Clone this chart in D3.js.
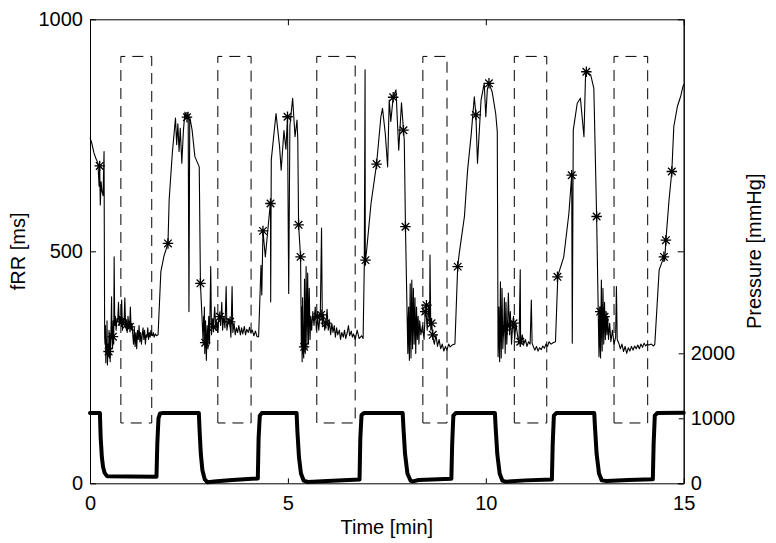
<!DOCTYPE html>
<html>
<head>
<meta charset="utf-8">
<script src="https://cdn.jsdelivr.net/npm/d3@7"></script>
<style>
  body { margin: 0; background: #fff; }
  svg { display: block; }
  text { font-family: "Liberation Sans", Arial, sans-serif; }
</style>
</head>
<body>
<div id="chart"></div>
<script>
// axis ticks
const timeTicks = [0, 5, 10, 15];
const fRRTicks = [0, 500, 1000];
const pressureTicks = [0, 1000, 2000];

// occlusion windows (min) drawn as dashed boxes, in fRR units
const boxWindows = [[0.78, 1.56], [3.23, 4.07], [5.73, 6.70], [8.41, 9.02], [10.72, 11.54], [13.24, 14.09]];
const boxLow = 130;
const boxHigh = 920;

// fRR trace [time min, ms]
const fRR = [
  [0,744],[0.04,735],[0.1,712],[0.15,700],[0.2,690],[0.23,640],[0.245,684],[0.26,600],[0.28,650],[0.3,630],[0.33,620],[0.355,715],[0.37,316],
  [0.38,300],[0.39,340],[0.40,260],[0.41,310],[0.42,290],[0.43,350],[0.44,255],[0.46,300],[0.47,284],[0.48,330],[0.49,270],[0.5,320],[0.51,262],[0.53,330],[0.545,402],[0.556,316],
  [0.57,290],[0.585,350],[0.6,300],[0.61,488],[0.625,340],[0.64,360],[0.66,330],[0.68,355],[0.7,350],[0.72,390],[0.74,340],[0.76,360],
  [0.78,348],[0.8,395],[0.82,330],[0.84,355],[0.86,345],[0.88,400],[0.9,335],[0.92,350],[0.94,325],[0.96,360],[0.98,340],[1.0,337],
  [1.02,380],[1.04,330],[1.06,345],[1.08,320],[1.1,300],[1.12,335],[1.14,295],[1.16,325],[1.18,290],[1.2,330],[1.22,310],[1.24,340],
  [1.26,305],[1.28,325],[1.3,300],[1.32,320],[1.34,335],[1.36,310],[1.38,330],[1.4,300],[1.42,320],[1.44,315],[1.46,335],[1.48,310],
  [1.5,325],[1.52,315],[1.54,330],[1.56,320],[1.58,318],[1.6,325],[1.62,315],[1.65,322],[1.68,318],[1.72,320],
  [1.79,456],[1.87,490],[1.97,517],[2.0,611],[2.08,712],[2.16,787],[2.19,730],[2.22,775],[2.25,715],[2.28,765],[2.32,690],[2.36,760],
  [2.4,800],[2.45,789],[2.48,800],[2.5,370],[2.52,790],[2.58,761],[2.65,704],[2.72,690],[2.76,682],[2.79,431],[2.86,302],
  [2.87,360],[2.88,330],[2.89,380],[2.9,280],[2.91,320],[2.92,350],[2.93,300],[2.94,265],[2.96,340],[2.98,290],[3.0,360],[3.02,300],[3.05,467],[3.07,320],[3.1,355],[3.12,337],
  [3.15,380],[3.18,330],[3.2,350],[3.23,325],[3.26,365],[3.28,359],[3.3,340],[3.33,390],[3.35,330],[3.38,360],[3.41,335],[3.44,424],
  [3.46,330],[3.5,355],[3.53,352],[3.56,315],[3.59,424],[3.61,325],[3.64,345],[3.67,320],[3.7,335],[3.73,325],[3.76,340],[3.8,320],
  [3.83,335],[3.86,322],[3.9,338],[3.93,320],[3.96,332],[4.0,325],[4.03,336],[4.06,325],[4.1,330],[4.14,318],[4.18,328],[4.22,316],[4.26,316],
  [4.32,470],[4.34,406],[4.37,544],[4.43,488],[4.54,589],[4.56,603],[4.565,391],[4.58,697],[4.7,797],[4.79,725],[4.83,675],[4.9,760],
  [4.95,720],[4.99,790],[5.02,409],[5.05,770],[5.12,830],[5.18,747],[5.23,783],[5.25,740],[5.27,557],[5.32,488],[5.34,294],
  [5.35,380],[5.36,262],[5.37,400],[5.38,330],[5.39,280],[5.4,270],[5.41,360],[5.42,440],[5.43,300],[5.44,280],[5.46,467],[5.48,290],[5.5,453],[5.52,300],[5.54,420],[5.56,310],[5.58,360],
  [5.6,330],[5.63,370],[5.66,340],[5.69,380],[5.72,330],[5.75,359],[5.78,330],[5.82,370],[5.85,550],[5.87,340],[5.9,365],[5.93,330],
  [5.96,345],[5.99,375],[6.02,330],[6.05,350],[6.08,320],[6.11,345],[6.14,325],[6.17,340],[6.2,315],[6.23,335],[6.26,320],[6.3,330],
  [6.33,310],[6.36,325],[6.4,315],[6.43,330],[6.46,312],[6.5,325],[6.53,340],[6.56,318],[6.6,328],[6.63,315],[6.66,322],[6.7,310],
  [6.75,330],[6.8,312],[6.86,318],[6.9,312],
  [6.93,470],[6.95,891],[6.955,470],[6.96,481],[6.99,503],[7.1,603],[7.24,688],[7.35,790],[7.39,808],[7.46,754],[7.52,682],[7.56,826],
  [7.6,780],[7.66,832],[7.73,848],[7.8,718],[7.87,820],[7.92,761],[7.94,740],[7.97,553],[8.03,280],
  [8.04,350],[8.05,380],[8.06,300],[8.07,265],[8.08,350],[8.09,430],[8.1,330],[8.11,270],[8.13,438],[8.15,290],[8.17,420],[8.19,300],[8.21,400],[8.23,280],[8.25,380],[8.27,310],
  [8.29,360],[8.31,300],[8.33,350],[8.36,320],[8.4,340],[8.44,310],[8.47,370],[8.49,373],[8.52,330],[8.55,384],[8.58,340],[8.59,492],
  [8.61,330],[8.63,345],[8.66,316],[8.7,300],[8.74,320],[8.78,295],[8.82,310],[8.86,290],[8.9,300],[8.94,285],[8.98,295],[9.02,287],
  [9.06,300],[9.1,294],[9.15,298],[9.22,300],
  [9.29,467],[9.33,496],[9.46,575],[9.54,675],[9.63,751],[9.71,833],[9.75,794],[9.79,690],[9.88,826],[9.96,862],[10.0,790],[10.04,850],
  [10.08,862],[10.16,844],[10.25,797],[10.29,758],[10.31,273],
  [10.32,330],[10.33,380],[10.34,300],[10.35,262],[10.36,350],[10.37,434],[10.38,320],[10.39,270],[10.41,420],[10.43,290],[10.45,330],[10.47,400],[10.49,280],[10.51,390],[10.53,300],
  [10.55,340],[10.57,410],[10.6,320],[10.62,370],[10.65,300],[10.68,345],[10.7,360],[10.73,310],[10.76,345],[10.8,320],[10.84,300],
  [10.87,460],[10.88,298],[10.92,320],[10.96,300],[11.0,310],[11.04,295],[11.08,305],[11.12,300],[11.15,395],[11.17,302],[11.2,295],
  [11.24,287],[11.28,295],[11.32,285],[11.36,292],[11.4,288],[11.44,296],[11.48,291],[11.52,300],[11.56,295],[11.6,305],[11.65,300],
  [11.7,303],[11.76,305],
  [11.82,447],[11.97,488],[12.1,582],[12.17,664],[12.185,302],[12.21,761],[12.31,819],[12.39,830],[12.48,747],[12.52,880],[12.54,887],
  [12.65,880],[12.72,855],[12.73,850],[12.8,575],[12.86,273],
  [12.87,340],[12.88,380],[12.89,300],[12.9,270],[12.91,360],[12.92,438],[12.93,330],[12.94,285],[12.96,420],[12.98,300],[13.0,390],[13.02,310],[13.04,370],[13.06,320],[13.08,360],
  [13.1,310],[13.13,345],[13.16,305],[13.2,330],[13.24,300],[13.28,315],[13.3,424],[13.32,310],[13.36,302],[13.4,290],[13.44,300],
  [13.48,284],[13.52,295],[13.56,280],[13.6,292],[13.64,285],[13.68,295],[13.72,287],[13.76,296],[13.8,290],[13.84,298],[13.88,290],
  [13.92,300],[13.96,293],[14.0,302],[14.04,296],[14.08,300],[14.12,298],[14.18,300],[14.24,296],[14.27,300],
  [14.38,460],[14.5,488],[14.52,480],[14.55,524],[14.63,611],[14.7,672],[14.75,769],[14.84,812],[14.92,833],[14.98,855],[15,860]
];

// '*' markers on the fRR trace [time min, ms]
const fRRMarks = [
  [0.245,684],[0.47,284],[0.58,316],[0.8,348],[0.92,342],[1.01,337],[1.97,517],[2.45,789],[2.79,431],[2.91,303],
  [3.12,337],[3.28,359],[3.54,348],[4.37,544],[4.56,603],[4.99,790],[5.27,557],[5.32,488],[5.41,294],
  [5.75,359],[5.84,363],[5.96,345],[6.96,481],[7.24,688],[7.66,832],[7.92,761],[7.97,553],
  [8.47,370],[8.5,384],[8.63,345],[8.66,320],[9.29,467],[9.75,794],[10.08,862],
  [10.45,330],[10.55,340],[10.7,345],[10.87,305],[11.81,445],[12.17,664],[12.54,887],[12.8,575],
  [12.89,370],[12.97,352],[13.0,359],[14.5,488],[14.55,524],[14.7,672]
];

// cuff pressure [time min, mmHg]
const pressure = [
  [0,1080],[0.25,1080],[0.27,700],[0.3,400],[0.33,250],[0.37,160],[0.43,110],[1.0,105],[1.68,100],
  [1.7,600],[1.73,1000],[1.77,1075],[1.82,1080],[2.75,1080],[2.77,800],[2.8,450],[2.84,200],[2.9,60],[2.97,15],[3.2,30],[3.6,50],[4.24,75],
  [4.26,700],[4.29,1040],[4.34,1080],[5.22,1080],[5.24,800],[5.28,400],[5.33,150],[5.4,40],[5.5,20],[6.0,35],[6.81,60],
  [6.83,700],[6.86,1050],[6.92,1080],[7.9,1080],[7.92,850],[7.96,450],[8.02,150],[8.1,40],[8.16,30],[8.3,50],[9.13,70],
  [9.15,600],[9.18,1040],[9.24,1080],[10.23,1080],[10.25,850],[10.29,450],[10.35,150],[10.42,40],[10.5,25],[11.0,45],[11.67,60],
  [11.69,600],[11.72,1040],[11.78,1080],[12.74,1080],[12.76,850],[12.8,450],[12.86,150],[12.93,45],[13.05,35],[13.6,50],[14.22,62],
  [14.24,600],[14.27,1040],[14.33,1080],[15,1085]
];

const W = 776, H = 543;
const plot = { left: 90, right: 683.7, top: 19.3, bottom: 483.3 };

const svg = d3.select("#chart").append("svg")
  .attr("width", W)
  .attr("height", H);

const x = d3.scaleLinear().domain([0, 15]).range([plot.left, plot.right]);
const yL = d3.scaleLinear().domain([0, 1000]).range([plot.bottom, plot.top]);
// right axis: 1000 mmHg = 65 px
const pxPerMmHg = 0.065;
const yR = d3.scaleLinear()
  .domain([0, (plot.bottom - plot.top) / pxPerMmHg])
  .range([plot.bottom, plot.top]);

const lineL = d3.line().x(d => x(d[0])).y(d => yL(d[1]));
const lineR = d3.line().x(d => x(d[0])).y(d => yR(d[1]));

// dashed boxes
svg.append("g").selectAll("path")
  .data(boxWindows)
  .join("path")
  .attr("d", d => lineL([[d[0], boxLow], [d[0], boxHigh], [d[1], boxHigh], [d[1], boxLow], [d[0], boxLow]]))
  .attr("fill", "none")
  .attr("stroke", "#000")
  .attr("stroke-width", 1)
  .attr("stroke-dasharray", "11,7");

// fRR trace
svg.append("path")
  .datum(fRR)
  .attr("d", lineL)
  .attr("fill", "none")
  .attr("stroke", "#000")
  .attr("stroke-width", 1.1)
  .attr("stroke-linejoin", "round");

// asterisk markers (+ and x combined)
const asterisk = {
  draw(ctx, size) {
    const r = Math.sqrt(size) / 2;
    const k = r * 0.72;
    ctx.moveTo(-r, 0); ctx.lineTo(r, 0);
    ctx.moveTo(0, -r); ctx.lineTo(0, r);
    ctx.moveTo(-k, -k); ctx.lineTo(k, k);
    ctx.moveTo(-k, k); ctx.lineTo(k, -k);
  }
};
svg.append("g").selectAll("path")
  .data(fRRMarks)
  .join("path")
  .attr("transform", d => `translate(${x(d[0])},${yL(d[1])})`)
  .attr("d", d3.symbol().type(asterisk).size(110))
  .attr("fill", "none")
  .attr("stroke", "#000")
  .attr("stroke-width", 1.3);

// cuff pressure (thick)
svg.append("path")
  .datum(pressure)
  .attr("d", lineR)
  .attr("fill", "none")
  .attr("stroke", "#000")
  .attr("stroke-width", 4)
  .attr("stroke-linejoin", "round")
  .attr("stroke-linecap", "round");

// axes
function styleAxis(g) {
  g.selectAll("text")
    .attr("fill", "#000")
    .style("font-size", "20px")
    .style("font-family", '"Liberation Sans", Arial, sans-serif');
  g.selectAll("line").attr("stroke", "#000");
  g.select(".domain").attr("stroke", "#000");
}

svg.append("g")
  .attr("transform", `translate(0,${plot.bottom})`)
  .call(d3.axisBottom(x).tickValues(timeTicks).tickFormat(d3.format("d"))
    .tickSizeInner(-5).tickSizeOuter(0).tickPadding(13))
  .call(styleAxis);

svg.append("g")
  .attr("transform", `translate(0,${plot.top})`)
  .call(d3.axisTop(x).tickValues(timeTicks).tickFormat("")
    .tickSizeInner(-6).tickSizeOuter(0))
  .call(styleAxis);

svg.append("g")
  .attr("transform", `translate(${plot.left},0)`)
  .call(d3.axisLeft(yL).tickValues(fRRTicks).tickFormat(d3.format("d"))
    .tickSizeInner(-6).tickSizeOuter(0).tickPadding(7))
  .call(styleAxis);

// mirrored left ticks on the right edge
svg.append("g")
  .attr("transform", `translate(${plot.right},0)`)
  .call(d3.axisRight(yL).tickValues(fRRTicks).tickFormat("")
    .tickSizeInner(-6).tickSizeOuter(0))
  .call(styleAxis);

svg.append("g")
  .attr("transform", `translate(${plot.right},0)`)
  .call(d3.axisRight(yR).tickValues(pressureTicks).tickFormat(d3.format("d"))
    .tickSizeInner(-5).tickSizeOuter(0).tickPadding(7))
  .call(styleAxis);

// axis titles
svg.append("text")
  .attr("x", (plot.left + plot.right) / 2)
  .attr("y", 533.5)
  .attr("text-anchor", "middle")
  .style("font-size", "20px")
  .text("Time [min]");

svg.append("text")
  .attr("transform", `translate(25,${(plot.top + plot.bottom) / 2}) rotate(-90)`)
  .attr("text-anchor", "middle")
  .style("font-size", "20px")
  .text("fRR [ms]");

svg.append("text")
  .attr("transform", `translate(760.5,${(plot.top + plot.bottom) / 2}) rotate(-90)`)
  .attr("text-anchor", "middle")
  .style("font-size", "20px")
  .text("Pressure [mmHg]");
</script>
</body>
</html>
